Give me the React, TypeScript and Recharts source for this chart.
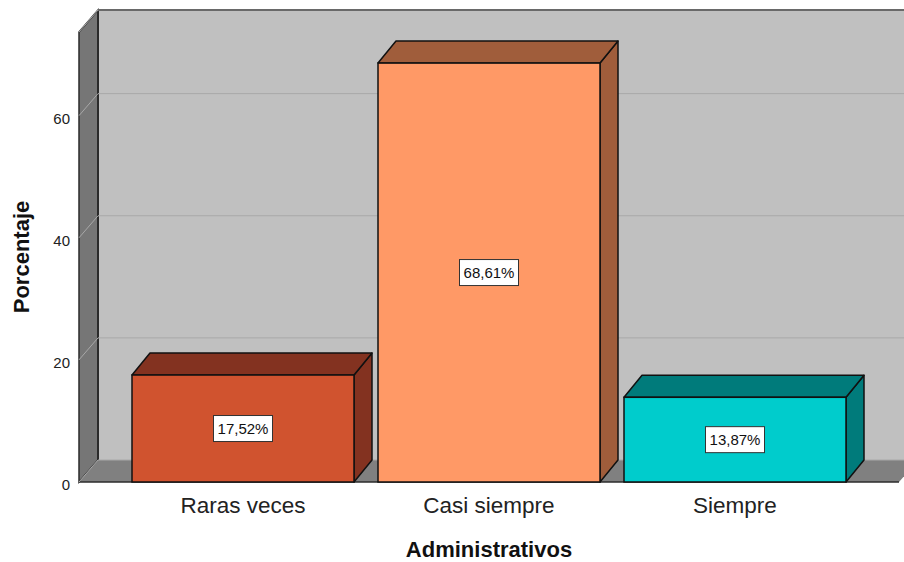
import React from 'react';
import { BarChart, Bar, XAxis, YAxis, CartesianGrid, LabelList } from 'recharts';

// values
const categories = ['Raras veces', 'Casi siempre', 'Siempre'];
const percentages = [17.52, 68.61, 13.87];
const yTicks = [0, 20, 40, 60];
const yMax = 73.7;

const data = categories.map((name, i) => ({ name, value: percentages[i] }));

// palette (front face / top+side face)
const frontFill = ['#d0532f', '#ff9966', '#00cccc'];
const shadeFill = ['#833220', '#a05d3b', '#007b7b'];

const FONT = '"Liberation Sans", Arial, sans-serif';
const WALL_DX = 19;
const WALL_DY = 22;
const BAR_DX = 18;
const BAR_DY = 22;
const EDGE = '#2b2b2b';
const GRID = '#a8a8a8';

// back plane, left wall and floor; drawn once from the bottom (0) grid line
const renderBackdrop = (props: any) => {
  const { x, y, width, height, y1, key } = props;
  const bottom = y + height;
  if (Math.abs(y1 - bottom) > 0.5) return <g key={key} />;
  const right = x + width;
  return (
    <g key={key}>
      <rect x={x + WALL_DX} y={y - WALL_DY} width={width} height={height} fill="#c0c0c0" />
      <polygon
        points={`${x},${y} ${x + WALL_DX},${y - WALL_DY} ${x + WALL_DX},${bottom - WALL_DY} ${x},${bottom}`}
        fill="#767676"
        stroke={EDGE}
        strokeWidth={1.5}
      />
      <polygon
        points={`${x},${bottom} ${x + WALL_DX},${bottom - WALL_DY} ${right + WALL_DX},${bottom - WALL_DY} ${right},${bottom}`}
        fill="#808080"
      />
      <line x1={x} y1={bottom} x2={right} y2={bottom} stroke={EDGE} strokeWidth={1.5} />
      <line x1={x + WALL_DX} y1={y - WALL_DY} x2={right + WALL_DX} y2={y - WALL_DY} stroke={EDGE} strokeWidth={2} />
      <line x1={x + WALL_DX} y1={y - WALL_DY} x2={x + WALL_DX} y2={bottom - WALL_DY} stroke={EDGE} strokeWidth={2} />
    </g>
  );
};

const renderGridLine = (props: any) => {
  const { x1, x2, y1, key } = props;
  return (
    <g key={key}>
      <line x1={x1 + WALL_DX} y1={y1 - WALL_DY} x2={x2 + WALL_DX} y2={y1 - WALL_DY} stroke={GRID} strokeWidth={1} />
      <line x1={x1} y1={y1} x2={x1 + WALL_DX} y2={y1 - WALL_DY} stroke={GRID} strokeWidth={1} />
    </g>
  );
};

const Box3D = (props: any) => {
  const { x, y, width, height, index } = props;
  const r = x + width;
  const b = y + height;
  return (
    <g>
      <polygon
        points={`${r},${y} ${r + BAR_DX},${y - BAR_DY} ${r + BAR_DX},${b - BAR_DY} ${r},${b}`}
        fill={shadeFill[index]}
        stroke="#111"
        strokeWidth={1.5}
        strokeLinejoin="round"
      />
      <polygon
        points={`${x},${y} ${x + BAR_DX},${y - BAR_DY} ${r + BAR_DX},${y - BAR_DY} ${r},${y}`}
        fill={shadeFill[index]}
        stroke="#111"
        strokeWidth={1.5}
        strokeLinejoin="round"
      />
      <rect x={x} y={y} width={width} height={height} fill={frontFill[index]} stroke="#111" strokeWidth={1.5} />
    </g>
  );
};

const ValueTag = (props: any) => {
  const { x, y, width, height, value } = props;
  const cx = x + width / 2;
  const cy = y + height / 2;
  const text = value.toFixed(2).replace('.', ',') + '%';
  return (
    <g>
      <rect x={cx - 29.5} y={cy - 13} width={59} height={26} fill="#fff" stroke="#333" strokeWidth={1} />
      <text x={cx} y={cy + 5.5} textAnchor="middle" fontSize={15} fill="#111" fontFamily={FONT}>
        {text}
      </text>
    </g>
  );
};

export default function App() {
  return (
    <div style={{ width: 904, height: 562, background: '#fff' }}>
      <style>{'body{margin:0}'}</style>
      <BarChart
        width={904}
        height={562}
        data={data}
        margin={{ top: 32, right: 5, left: 0, bottom: 0 }}
        barSize={222}
      >
        <CartesianGrid vertical={false} horizontal={renderBackdrop} />
        <CartesianGrid vertical={false} horizontal={renderGridLine} />
        <XAxis
          dataKey="name"
          height={80}
          tickLine={false}
          axisLine={false}
          padding={{ left: 41, right: 41 }}
          tickMargin={9}
          tick={{ fontSize: 22.5, fill: '#222', fontFamily: FONT }}
          label={{
            content: (p: any) => {
              const vb = p.viewBox;
              return (
                <text x={vb.x + vb.width / 2} y={557} textAnchor="middle" fontSize={22} fontWeight="bold" fill="#111" fontFamily={FONT}>
                  Administrativos
                </text>
              );
            },
          }}
        />
        <YAxis
          width={79}
          domain={[0, yMax]}
          ticks={yTicks}
          tickLine={false}
          axisLine={false}
          tickMargin={3}
          tick={{ fontSize: 15, fill: '#222', fontFamily: FONT, dy: 3 }}
          label={{
            content: (p: any) => {
              const vb = p.viewBox;
              const cx = 29;
              const cy = vb.y + vb.height / 2;
              return (
                <text x={cx} y={cy} transform={`rotate(-90 ${cx} ${cy})`} textAnchor="middle" fontSize={22} fontWeight="bold" fill="#111" fontFamily={FONT}>
                  Porcentaje
                </text>
              );
            },
          }}
        />
        <Bar dataKey="value" shape={Box3D} isAnimationActive={false}>
          <LabelList dataKey="value" content={ValueTag} />
        </Bar>
      </BarChart>
    </div>
  );
}
